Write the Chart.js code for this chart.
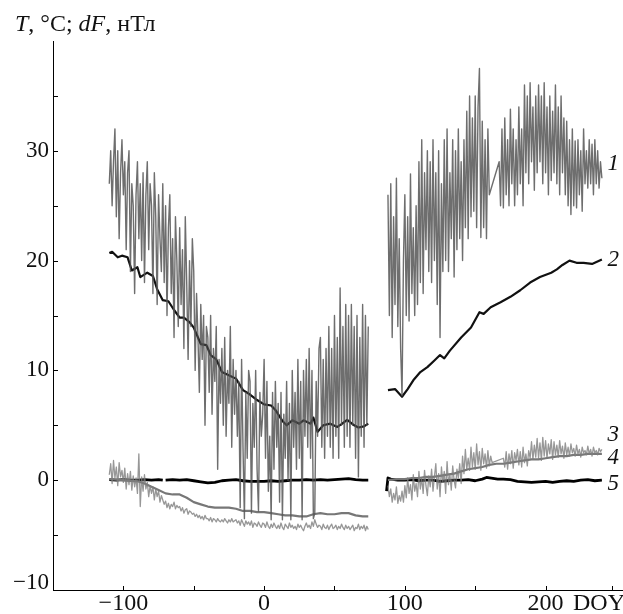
<!DOCTYPE html>
<html><head><meta charset="utf-8">
<script src="https://cdn.jsdelivr.net/npm/chart.js@4/dist/chart.umd.min.js"></script>
<style>html,body{margin:0;padding:0;background:#fff}#wrap{width:623px;height:614px}</style>
</head><body><div id="wrap"><canvas id="c" width="623" height="614"></canvas></div>
<script>
// ---- axis ticks ----
const xTickVals = [-100, -50, 0, 50, 100, 150, 200, 247];
const xTickLabels = {"-100": "\u2212100", "0": "0", "100": "100", "200": "200"};
const yTickVals = [-10, -5, 0, 5, 10, 15, 20, 25, 30, 35];
const yTickLabels = {"0": "0", "10": "10", "20": "20", "30": "30"};

// ---- series 1 (air temperature, noisy), consecutive days ----
const s1A_start = -110;
const s1A = [
  27, 30, 25, 29, 32, 24, 30, 22, 28, 31,
  26, 29, 21, 28, 30, 19, 27, 25, 17, 26,
  29, 22, 27, 20, 28, 18, 26, 29, 21, 27,
  25, 17, 28, 24, 16, 26, 22, 19, 27, 18,
  25, 15, 23, 26, 17, 22, 13, 24, 20, 14,
  23, 16, 21, 12, 24, 18, 11, 20, 14, 22,
  19, 10, 17, 13, 8, 16, 11, 15, 5, 14,
  13, 8, 15, 6, 12, 9, 14, 1, 11, 7,
  12, 5, 13, 4, 10, 7, 14, 3, 11, 6,
  10, 4, 9, -2.5, 11, 3, -3.5, 8, 2, 10,
  9, -3, 7, 3, 10, 1, -2.8, 8, 4, 6,
  11, 2, 9, -1, 4, -3.6, 8, 1, 9, 3,
  7, -2, 8, -3.6, 6, 2, 9, 0, 7, -3.6,
  10, 3, 8, 1, 11, 2, 9, -3.6, 10, 4,
  11, 3, 12, 2, 10, -3.5, -3, 9, 4, 12,
  13, 3, 11, 2, 12, 4, 14, 3, 12, 2,
  15, 4, 13, 2, 17.5, 5, 14, 3, 16, 4,
  15, 3, 16, 5, 14, 2, 15, 0.3, 13, 4,
  16, 3, 15, 5, 14
];
const s1B1_start = 88;
const s1B1 = [
  26, 15, 27, 13, 24, 16, 27.5, 14, 22, 12,
  7.7, 20, 26, 15, 24, 14.5, 27.9, 17, 23, 15,
  25, 16, 29, 18, 31, 17, 28, 21, 30, 19,
  29, 18, 31, 20, 28, 16, 30, 13, 27, 19,
  31, 20, 32, 19, 28, 22, 31, 18.5, 30, 21,
  32, 22, 29, 20, 31, 23, 33.6, 22, 35, 24,
  33, 24.5, 35, 23, 34, 37.5, 22.1, 32.7, 23, 31,
  22, 32, 26
];
const s1B2_start = 167;
const s1B2 = [
  29, 25, 32, 24.8, 33, 26, 31, 25, 33.8, 27,
  32, 25, 31, 26, 34, 27, 32, 25, 36, 28,
  35, 27, 36.2, 29, 34, 26.4, 35, 28, 36, 29,
  35, 27, 36.2, 28, 34, 26, 35, 27.3, 33.6, 28,
  36, 27, 34, 26, 35, 28, 33, 26, 32.7, 25,
  31, 24.2, 32, 25, 30.9, 24.8, 31, 26, 30, 24.5,
  32, 27, 30, 26.6, 31, 27, 30.6, 26, 31, 27,
  30, 26.6, 29, 27.5
];

// ---- series 2 (smoothed temperature) ----
const s2A_days = [-110,-108,-104,-101,-97,-94,-90,-88,-83,-79,-76,-72,-68,-64,-60,-57,-53,-50,-45,-41,-38,-34,-30,-24,-20,-15,-10,-5,0,5,8,13,16,20,25,28,33,35,38,42,47,52,55,59,64,67,71,74];
const s2A_vals = [20.7,20.8,20.3,20.45,20.3,19.1,19.4,18.5,18.9,18.6,17.4,16.4,16.3,15.5,14.8,14.8,14.4,13.9,12.4,12.3,11.4,11.0,9.85,9.5,9.25,8.2,7.8,7.3,6.9,6.8,6.4,5.4,5.0,5.45,5.15,5.45,5.15,5.7,4.4,5.0,5.15,4.85,5.1,5.5,5.0,4.8,4.9,5.15];
const s2B_days = [88,93,98,102,106,111,116,121,125,128,132,140,147,153,156,161,168,175,182,189,196,204,208,212,217,222,227,233,240];
const s2B_vals = [8.2,8.3,7.6,8.3,9.1,9.85,10.3,10.9,11.4,11.1,11.8,13.0,13.9,15.3,15.15,15.75,16.2,16.7,17.3,18.0,18.5,18.9,19.2,19.6,20.0,19.8,19.8,19.7,20.1];

// ---- series 3 (noisy, light gray), consecutive days ----
const s3A_start = -110;
const s3A = [
  0.5, 1.5, -0.3, 1.8, 0.2, 1.2, -0.5, 1.6, 0.3, 0.9,
  -0.2, 1.1, -0.8, 0.6, -0.4, 0.8, -0.9, 0.4, -0.6, 0.2,
  -1.2, 2.4, -2.4, 0.3, -1.0, 0.5, -0.8, -0.2, -1.5, -0.5,
  -1.2, -0.6, -1.8, -0.8, -1.5, -1.0, -2.0, -1.4, -1.8, -2.2,
  -1.9, -2.5, -2.1, -2.6, -2.2, -2.4, -2.0, -2.6, -2.3, -2.5,
  -2.4, -2.8, -2.5, -3.0, -2.7, -2.6, -3.1, -2.8, -2.9, -3.1,
  -3.0, -3.3, -3.1, -3.4, -3.2, -3.5, -3.3, -3.6, -3.2, -3.5,
  -3.5, -3.7, -3.4, -3.8, -3.5, -3.6, -3.8, -3.5, -3.7, -3.8,
  -3.6, -3.8, -3.5, -3.7, -3.9, -3.6, -3.8, -3.5, -3.8, -3.7,
  -3.6, -3.9, -3.7, -4.1, -3.6, -3.9, -4.2, -3.7, -4.0, -3.8,
  -4.1, -3.7, -4.3, -3.9, -4.0, -4.2, -3.8, -4.1, -4.3, -3.9,
  -4.0, -4.3, -3.8, -4.2, -4.4, -4.0, -4.3, -3.9, -4.2, -4.4,
  -4.1, -4.4, -3.9, -4.3, -4.5, -4.0, -4.2, -4.4, -3.9, -4.3,
  -4.1, -4.4, -4.2, -4.5, -4.0, -4.3, -4.1, -4.4, -4.6, -4.2,
  -3.9, -4.3, -4.1, -4.4, -3.8, -4.2, -3.6, -4.0, -4.3, -4.1,
  -4.2, -4.5, -4.0, -4.3, -4.4, -4.1, -4.5, -4.2, -4.0, -4.4,
  -4.3, -4.1, -4.5, -4.2, -4.4, -4.0, -4.3, -4.5, -4.1, -4.4,
  -4.2, -4.5, -4.3, -4.1, -4.6, -4.3, -4.4, -4.0, -4.5, -4.2,
  -4.4, -4.1, -4.6, -4.2, -4.5
];
const s3B1_start = 88;
const s3B1 = [
  -0.5, -1.5, -0.8, -2.0, -1.2, -1.8, -0.6, -2.1, -1.4, -1.9,
  -1.0, -2.0, -0.5, -1.6, 0.2, -1.2, -0.4, -1.8, 0.5, -1.0,
  -0.3, -1.5, 0.8, -0.8, 0.2, -1.2, 0.9, -0.5, -1.4, 0.4,
  -0.6, 1.0, -1.0, 0.3, 1.5, -0.8, 0.6, -1.5, 1.2, -0.2,
  0.8, -1.2, 1.7, -0.4, 0.5, -0.9, 1.3, 0.0, -0.7, 1.0,
  0.2, 1.5, -0.3, 2.2, 0.6, 2.8, 1.0, 2.0, 0.9, 3.0,
  1.2, 2.5, 1.0, 3.3, 1.4, 2.6, 0.9, 2.9, 1.5, 2.4,
  1.1, 2.7, 1.3, 2.2, 1.6
];
const s3B2_start = 170;
const s3B2 = [
  2.0, 1.2, 2.6, 1.0, 2.4, 1.5, 2.7, 1.1, 2.5, 1.8,
  2.8, 1.4, 2.6, 1.2, 3.0, 1.6, 2.4, 1.3, 2.7, 2.0,
  3.5, 1.9, 3.2, 2.1, 3.8, 2.0, 3.4, 1.8, 3.9, 2.2,
  3.6, 2.0, 3.3, 2.4, 3.7, 1.9, 3.5, 2.3, 3.2, 2.1,
  3.6, 2.4, 3.1, 2.0, 3.4, 2.3, 3.0, 2.2, 3.3, 2.5,
  2.9, 2.2, 3.2, 2.4, 2.8, 2.1, 3.0, 2.5, 2.7, 2.3,
  3.1, 2.4, 2.8, 2.2, 3.0, 2.5, 2.7, 2.3, 2.9, 2.6, 2.8
];

// ---- series 4 (smoother gray) ----
const s4A_days = [-110,-100,-90,-85,-80,-75,-70,-65,-60,-55,-50,-45,-40,-35,-30,-25,-20,-15,-10,-5,0,5,10,15,20,25,30,35,40,45,50,55,60,65,70,74];
const s4A_vals = [0.1,0.0,-0.1,-0.3,-0.6,-0.9,-1.2,-1.3,-1.3,-1.6,-2.0,-2.2,-2.4,-2.5,-2.5,-2.5,-2.6,-2.8,-2.8,-2.9,-2.9,-3.0,-3.1,-3.2,-3.2,-3.3,-3.3,-3.1,-3.0,-3.1,-3.1,-3.0,-3.0,-3.2,-3.3,-3.3];
const s4B_days = [88,95,100,105,110,115,120,125,130,135,140,145,150,155,160,165,170,175,180,185,190,195,200,205,210,215,220,225,230,235,240];
const s4B_vals = [0.0,0.1,0.1,0.2,0.2,0.3,0.3,0.4,0.5,0.6,0.8,1.0,1.1,1.2,1.4,1.5,1.5,1.6,1.7,1.8,1.9,1.9,2.0,2.1,2.2,2.2,2.3,2.3,2.4,2.4,2.4];

// ---- series 5 (black, near zero) ----
const s5A_days = [-110,-105,-100,-95,-90,-85,-80,-75,-72,-71,-70,-65,-60,-55,-50,-45,-40,-35,-30,-25,-20,-15,-10,-5,0,5,10,15,20,25,30,35,40,45,50,55,60,65,70,74];
const s5A_vals = [0.05,0.0,0.05,0.0,0.0,0.05,0.0,0.05,0.0,null,0.0,0.05,0.0,0.05,-0.05,-0.15,-0.25,-0.2,-0.05,0.0,0.05,-0.05,-0.1,-0.1,-0.1,-0.05,-0.1,-0.05,0.0,0.0,0.05,0.0,0.05,0.0,0.05,0.1,0.15,0.05,0.0,0.0];
const s5B_days = [87,88,90,95,100,105,110,115,120,125,130,135,140,145,150,155,158,166,170,175,180,185,190,195,200,205,210,215,220,225,230,235,240];
const s5B_vals = [-1.0,0.2,0.1,0.0,0.0,0.05,-0.05,0.0,0.0,-0.1,-0.05,0.0,0.0,0.05,-0.05,0.1,0.25,0.1,0.1,0.05,-0.1,-0.15,-0.2,-0.15,-0.1,-0.2,-0.1,-0.05,-0.1,0.0,0.05,-0.05,0.0];

// ---- curve number labels ----
const curveNames = ["1", "2", "3", "4", "5"];
const curveLabelY = [28.8, 20.1, 4.1, 2.0, -0.3];
const curveLabelX = 248;

// ---- helpers ----
const seq = (start, vals) => vals.map((v, i) => ({x: start + i, y: v}));
const pts = (days, vals) => days.map((d, i) => ({x: d, y: vals[i]}));
const gap = d => [{x: d, y: null}];

const SERIF = "'Liberation Serif', 'DejaVu Serif', serif";

const datasets = [
  {label: '3', data: [...seq(s3A_start, s3A), ...gap(80), ...seq(s3B1_start, s3B1), ...seq(s3B2_start, s3B2)],
   borderColor: 'rgba(125,125,125,0.8)', borderWidth: 1.3},
  {label: '1', data: [...seq(s1A_start, s1A), ...gap(80), ...seq(s1B1_start, s1B1), ...seq(s1B2_start, s1B2)],
   borderColor: 'rgba(85,85,85,0.85)', borderWidth: 1.4},
  {label: '4', data: [...pts(s4A_days, s4A_vals), ...gap(80), ...pts(s4B_days, s4B_vals)],
   borderColor: '#777', borderWidth: 2.2},
  {label: '2', data: [...pts(s2A_days, s2A_vals), ...gap(80), ...pts(s2B_days, s2B_vals)],
   borderColor: '#111', borderWidth: 2.2},
  {label: '5', data: [...pts(s5A_days, s5A_vals), ...gap(80), ...pts(s5B_days, s5B_vals)],
   borderColor: '#000', borderWidth: 2.8}
];

const decor = {
  id: 'decor',
  afterDraw(chart) {
    const ctx = chart.ctx, xs = chart.scales.x, ys = chart.scales.y;
    ctx.save();
    ctx.strokeStyle = '#000'; ctx.lineWidth = 1;
    xTickVals.forEach(v => {
      const p = Math.round(xs.getPixelForValue(v)) + 0.5;
      ctx.beginPath(); ctx.moveTo(p, ys.bottom); ctx.lineTo(p, ys.bottom - 4); ctx.stroke();
    });
    yTickVals.forEach(v => {
      const p = Math.round(ys.getPixelForValue(v)) + 0.5;
      ctx.beginPath(); ctx.moveTo(xs.left, p); ctx.lineTo(xs.left + 5, p); ctx.stroke();
    });
    ctx.fillStyle = '#111';
    // -10 label, lifted to sit above the x axis
    ctx.font = '23px ' + SERIF;
    ctx.textAlign = 'right'; ctx.textBaseline = 'alphabetic';
    ctx.fillText('\u221210', xs.left - 4, ys.getPixelForValue(-10) - 1);
    // DOY
    ctx.font = '24px ' + SERIF;
    ctx.textAlign = 'left';
    ctx.fillText('DOY', 573, 610);
    // axis title
    const parts = [['T', 'italic '], [', \u00b0C; ', ''], ['dF', 'italic '], [', \u043d\u0422\u043b', '']];
    let x = 15;
    ctx.textAlign = 'left';
    parts.forEach(([t, st]) => {
      ctx.font = st + '24px ' + SERIF;
      ctx.fillText(t, x, 31);
      x += ctx.measureText(t).width;
    });
    // curve numbers
    ctx.font = 'italic 23px ' + SERIF;
    ctx.textAlign = 'center'; ctx.textBaseline = 'middle';
    curveNames.forEach((n, i) => {
      ctx.fillText(n, xs.getPixelForValue(curveLabelX), ys.getPixelForValue(curveLabelY[i]));
    });
    ctx.restore();
  }
};

new Chart(document.getElementById('c'), {
  type: 'line',
  data: {datasets},
  options: {
    responsive: false, animation: false, devicePixelRatio: 1,
    layout: {padding: {top: 41, right: 0, left: 0, bottom: 0}},
    plugins: {legend: {display: false}, tooltip: {enabled: false}},
    elements: {point: {radius: 0}, line: {tension: 0, borderJoinStyle: 'round'}},
    scales: {
      x: {
        type: 'linear', min: -150, max: 255,
        border: {display: true, color: '#000', width: 1},
        grid: {display: false, drawTicks: false},
        afterBuildTicks: s => { s.ticks = xTickVals.map(v => ({value: v})); },
        afterFit: s => { s.height = 24; },
        ticks: {
          autoSkip: false, maxRotation: 0, padding: -1, color: '#111',
          font: {family: SERIF, size: 24},
          callback: v => xTickLabels[String(v)] || ''
        }
      },
      y: {
        min: -10, max: 40,
        border: {display: true, color: '#000', width: 1},
        grid: {display: false, drawTicks: false},
        afterBuildTicks: s => { s.ticks = yTickVals.map(v => ({value: v})); },
        afterFit: s => { s.width = 53; },
        ticks: {
          autoSkip: false, padding: 4, color: '#111',
          font: {family: SERIF, size: 23},
          callback: v => yTickLabels[String(v)] || ''
        }
      }
    }
  },
  plugins: [decor]
});
</script></body></html>
